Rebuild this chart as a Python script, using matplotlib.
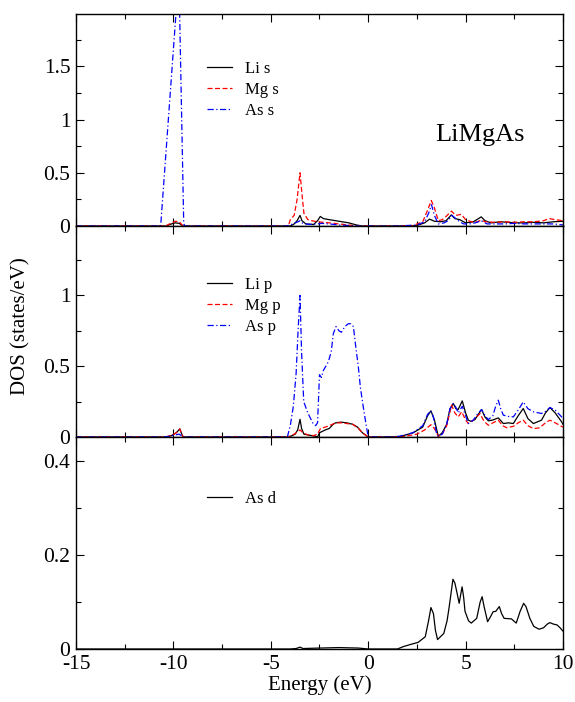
import numpy as np
import matplotlib
matplotlib.use('Agg')
from matplotlib import pyplot as plt
from matplotlib.ticker import MultipleLocator, FuncFormatter

plt.rcParams['font.family'] = ['Liberation Serif', 'DejaVu Serif']
plt.rcParams['axes.unicode_minus'] = False
plt.rcParams['mathtext.default'] = 'regular'

## s states
e_li_s = [-15, -10.4, -10.1, -9.9, -9.7, -9.5, -4.0, -3.8, -3.65, -3.5, -3.4, -3.2, -2.8, -2.6, -2.46,
          -2.3, -2.0, -1.5, -1.0, -0.6, -0.3, 1.5, 2.5, 2.9, 3.15, 3.4, 3.7, 4.0, 4.27, 4.45, 4.7, 5.0,
          5.4, 5.8, 6.0, 6.3, 6.8, 7.2, 7.5, 8.0, 8.5, 9.0, 9.5, 10]
dos_li_s = [0, 0, 0.02, 0.03, 0.025, 0, 0, 0.02, 0.05, 0.10, 0.05, 0.02, 0.015, 0.05, 0.09,
            0.07, 0.06, 0.045, 0.03, 0.01, 0, 0, 0.005, 0.03, 0.065, 0.045, 0.04, 0.05, 0.105, 0.07, 0.06, 0.03,
            0.04, 0.086, 0.05, 0.03, 0.04, 0.035, 0.03, 0.03, 0.035, 0.03, 0.04, 0.045]

e_mg_s = [-15, -10.4, -10.2, -9.9, -9.7, -9.5, -4.1, -4.0, -3.8, -3.65, -3.5, -3.4, -3.3, -3.1, -2.9,
          -2.6, -2.3, -2.0, -1.5, -1.0, -0.5, 1.5, 2.3, 2.8, 3.05, 3.24, 3.4, 3.6, 3.8, 4.0, 4.27, 4.5,
          4.78, 5.0, 5.3, 5.6, 5.8, 6.0, 6.5, 7.0, 7.5, 8.0, 8.5, 9.0, 9.3, 9.6, 10]
dos_mg_s = [0, 0, 0.02, 0.045, 0.04, 0, 0, 0.06, 0.10, 0.25, 0.50, 0.30, 0.12, 0.06, 0.05,
            0.04, 0.035, 0.03, 0.02, 0.01, 0, 0, 0.005, 0.04, 0.15, 0.24, 0.17, 0.05, 0.06, 0.09, 0.14, 0.10,
            0.11, 0.06, 0.04, 0.04, 0.055, 0.04, 0.035, 0.04, 0.035, 0.04, 0.04, 0.05, 0.07, 0.06, 0.05]

e_as_s = [-15, -10.7, -10.65, -9.72, -9.47, -9.4, -4.2, -4.0, -3.75, -3.6, -3.5, -3.4, -3.2, -3.0,
          -2.6, -2.4, -2.0, -1.5, -1.0, -0.5, 0, 1.5, 2.5, 2.9, 3.1, 3.25, 3.4, 3.6, 3.9, 4.1, 4.3, 4.5,
          4.7, 4.9, 5.2, 5.5, 5.8, 6.1, 6.5, 7.0, 7.5, 8.0, 8.5, 9.0, 9.5, 10]
dos_as_s = [0, 0, 0.01, 2.37, 0.02, 0, 0, 0.01, 0.03, 0.04, 0.05, 0.03, 0.02, 0.015,
            0.02, 0.025, 0.02, 0.01, 0.005, 0, 0, 0, 0.01, 0.04, 0.12, 0.20, 0.10, 0.02, 0.03, 0.05, 0.10, 0.07,
            0.04, 0.02, 0.02, 0.03, 0.05, 0.02, 0.02, 0.02, 0.025, 0.02, 0.02, 0.02, 0.02, 0.01]

## p states
e_li_p = [-15, -10.4, -10.1, -9.85, -9.67, -9.6, -9.5, -4.1, -3.9, -3.75, -3.62, -3.5, -3.42, -3.3, -3.0,
          -2.7, -2.6, -2.5, -2.2, -2.0, -1.8, -1.67, -1.4, -1.1, -0.8, -0.55, -0.3, -0.1, 0, 1.0, 1.63,
          2.31, 2.8, 3.05, 3.22, 3.4, 3.6, 3.8, 4.03, 4.2, 4.37, 4.5, 4.62, 4.83, 5.0, 5.14, 5.3, 5.48,
          5.65, 5.82, 6.0, 6.17, 6.4, 6.68, 6.94, 7.2, 7.45, 7.7, 7.96, 8.2, 8.48, 8.9, 9.1, 9.33, 9.6,
          9.93, 10]
dos_li_p = [0, 0, 0.01, 0.03, 0.057, 0.03, 0, 0, 0.01, 0.02, 0.05, 0.125, 0.06, 0.02, 0.012,
            0.005, 0, 0.03, 0.05, 0.06, 0.09, 0.10, 0.105, 0.10, 0.09, 0.07, 0.03, 0.01, 0, 0, 0.003,
            0.03, 0.07, 0.15, 0.185, 0.12, 0.005, 0.03, 0.09, 0.20, 0.236, 0.20, 0.194, 0.255, 0.17, 0.119, 0.11, 0.123,
            0.16, 0.194, 0.14, 0.114, 0.12, 0.135, 0.095, 0.10, 0.095, 0.15, 0.201, 0.13, 0.095, 0.119, 0.17, 0.208, 0.17,
            0.107, 0.09]

e_mg_p = [-15, -10.4, -10.1, -9.85, -9.67, -9.6, -9.5, -4.1, -3.8, -3.6, -3.5, -3.35, -3.1, -2.8, -2.6,
          -2.45, -2.2, -2.0, -1.67, -1.4, -1.1, -0.8, -0.5, -0.3, 0, 1.0, 1.8, 2.5, 2.9, 3.22, 3.4, 3.6,
          3.8, 4.03, 4.28, 4.45, 4.62, 4.8, 5.0, 5.14, 5.4, 5.74, 5.95, 6.17, 6.4, 6.68, 6.9, 7.1, 7.45,
          7.7, 7.96, 8.2, 8.48, 8.8, 9.1, 9.33, 9.6, 9.93, 10]
dos_mg_p = [0, 0, 0.01, 0.03, 0.057, 0.03, 0, 0, 0.02, 0.04, 0.05, 0.03, 0.015, 0.01, 0.02,
            0.06, 0.07, 0.08, 0.10, 0.10, 0.095, 0.09, 0.06, 0.03, 0, 0, 0.003, 0.02, 0.05, 0.087, 0.06, 0.005,
            0.02, 0.08, 0.225, 0.17, 0.142, 0.178, 0.12, 0.095, 0.12, 0.165, 0.11, 0.083, 0.10, 0.119, 0.08, 0.066, 0.075,
            0.10, 0.119, 0.08, 0.059, 0.065, 0.10, 0.119, 0.10, 0.075, 0.07]

e_as_p = [-15, -10.5, -10.2, -9.9, -9.7, -9.5, -4.15, -4.0, -3.84, -3.7, -3.6, -3.5, -3.42, -3.31, -3.1,
          -2.85, -2.7, -2.6, -2.5, -2.4, -2.3, -2.05, -1.9, -1.79, -1.65, -1.5, -1.37, -1.2, -1.02, -0.9,
          -0.76, -0.65, -0.51, -0.4, -0.25, -0.1, 0, 1.0, 1.6, 2.3, 2.8, 3.05, 3.22, 3.35, 3.5, 3.6, 3.8,
          4.03, 4.2, 4.37, 4.5, 4.62, 4.83, 5.0, 5.14, 5.4, 5.6, 5.82, 6.0, 6.17, 6.4, 6.55, 6.68, 6.8,
          6.94, 7.2, 7.45, 7.7, 7.96, 8.2, 8.48, 8.9, 9.1, 9.33, 9.6, 9.93, 10]
dos_as_p = [0, 0, 0.005, 0.015, 0.02, 0, 0, 0.08, 0.22, 0.45, 0.75, 1.0, 0.60, 0.25, 0.17,
            0.10, 0.08, 0.10, 0.44, 0.42, 0.47, 0.53, 0.60, 0.73, 0.78, 0.75, 0.74, 0.78, 0.80, 0.80,
            0.78, 0.65, 0.50, 0.35, 0.21, 0.08, 0, 0, 0.005, 0.03, 0.08, 0.16, 0.185, 0.14, 0.03, 0.005, 0.02,
            0.09, 0.20, 0.236, 0.21, 0.17, 0.217, 0.15, 0.095, 0.12, 0.16, 0.194, 0.15, 0.123, 0.15, 0.22, 0.26, 0.20,
            0.154, 0.145, 0.142, 0.19, 0.248, 0.20, 0.178, 0.166, 0.18, 0.208, 0.19, 0.142, 0.12]

## d states
e_as_d = [-15, -4.0, -3.7, -3.5, -3.35, -2.5, -1.5, -0.5, 0, 1.5, 1.8, 2.2, 2.56, 2.93, 3.1, 3.22,
          3.35, 3.45, 3.56, 3.88, 4.05, 4.16, 4.35, 4.45, 4.53, 4.67, 4.82, 4.9, 4.97, 5.15, 5.29, 5.57,
          5.75, 5.85, 5.95, 6.13, 6.3, 6.41, 6.55, 6.73, 6.85, 6.98, 7.35, 7.6, 7.8, 7.98, 8.1, 8.3, 8.5,
          8.77, 9.0, 9.2, 9.33, 9.5, 9.7, 9.85, 10]
dos_as_d = [0, 0, 0.001, 0.004, 0.001, 0.002, 0.003, 0.002, 0, 0, 0.005, 0.01, 0.014, 0.026, 0.06, 0.088,
            0.075, 0.04, 0.02, 0.033, 0.06, 0.09, 0.148, 0.14, 0.125, 0.097, 0.132, 0.11, 0.08, 0.06, 0.055, 0.065,
            0.10, 0.111, 0.09, 0.058, 0.07, 0.079, 0.08, 0.09, 0.075, 0.065, 0.064, 0.055, 0.08, 0.097, 0.09, 0.065, 0.048,
            0.042, 0.045, 0.053, 0.056, 0.053, 0.051, 0.045, 0.038]

xticks = [-15, -10, -5, 0, 5, 10]

fig = plt.figure(figsize=(5.75, 7.02), dpi=100)
left, width = 0.1322, 0.8469
ax1 = fig.add_axes([left, 0.678, width, 0.302])
ax2 = fig.add_axes([left, 0.3775, width, 0.3005])
ax3 = fig.add_axes([left, 0.0755, width, 0.302])

red_dash = (0, (4, 2))
blue_dd = (0, (5, 2, 1, 2))
lw = 0.9

ax1.plot(e_li_s, dos_li_s, color='black', lw=lw, label='Li s')
ax1.plot(e_mg_s, dos_mg_s, color='red', lw=lw, ls=red_dash, label='Mg s')
ax1.plot(e_as_s, dos_as_s, color='blue', lw=lw, ls=blue_dd, label='As s')

ax2.plot(e_li_p, dos_li_p, color='black', lw=lw, label='Li p')
ax2.plot(e_mg_p, dos_mg_p, color='red', lw=lw, ls=red_dash, label='Mg p')
ax2.plot(e_as_p, dos_as_p, color='blue', lw=lw, ls=blue_dd, label='As p')

ax3.plot(e_as_d, dos_as_d, color='black', lw=lw, label='As d')

fmt = FuncFormatter(lambda v, p: '%g' % round(v, 3))
panels = [(ax1, 1.99, 0.5, 0.25, 0.778), (ax2, 1.49, 0.5, 0.25, 0.76), (ax3, 0.45, 0.2, 0.1, 0.746)]
for ax, ymax, major, minor, leg_y in panels:
    ax.set_xlim(-15, 10)
    ax.set_ylim(0, ymax)
    ax.set_xticks(xticks)
    ax.xaxis.set_minor_locator(MultipleLocator(2.5))
    ax.yaxis.set_major_locator(MultipleLocator(major))
    ax.yaxis.set_minor_locator(MultipleLocator(minor))
    ax.yaxis.set_major_formatter(fmt)
    ax.xaxis.set_major_formatter(fmt)
    ax.tick_params(which='both', direction='in', top=True, right=True, labelsize=15.5, width=0.8)
    ax.tick_params(which='major', length=6, pad=4)
    ax.tick_params(which='minor', length=3.5)
    for s in ax.spines.values():
        s.set_linewidth(1.0)
    ax.legend(loc='upper left', bbox_to_anchor=(0.27, leg_y), frameon=False, fontsize=12,
              handlelength=1.45, handletextpad=0.8, labelspacing=0.3, borderpad=0, borderaxespad=0)

ax1.tick_params(labelbottom=False)
ax2.tick_params(labelbottom=False)

ax1.text(0.737, 0.43, 'LiMgAs', transform=ax1.transAxes, fontsize=19, va='center', ha='left')

ax3.set_xlabel('Energy (eV)', fontsize=15, labelpad=1)
fig.text(21 / 575, 1 - 326 / 702, 'DOS (states/eV)', rotation=90, fontsize=15, va='center', ha='center')

plt.savefig('out.png', dpi=100)
